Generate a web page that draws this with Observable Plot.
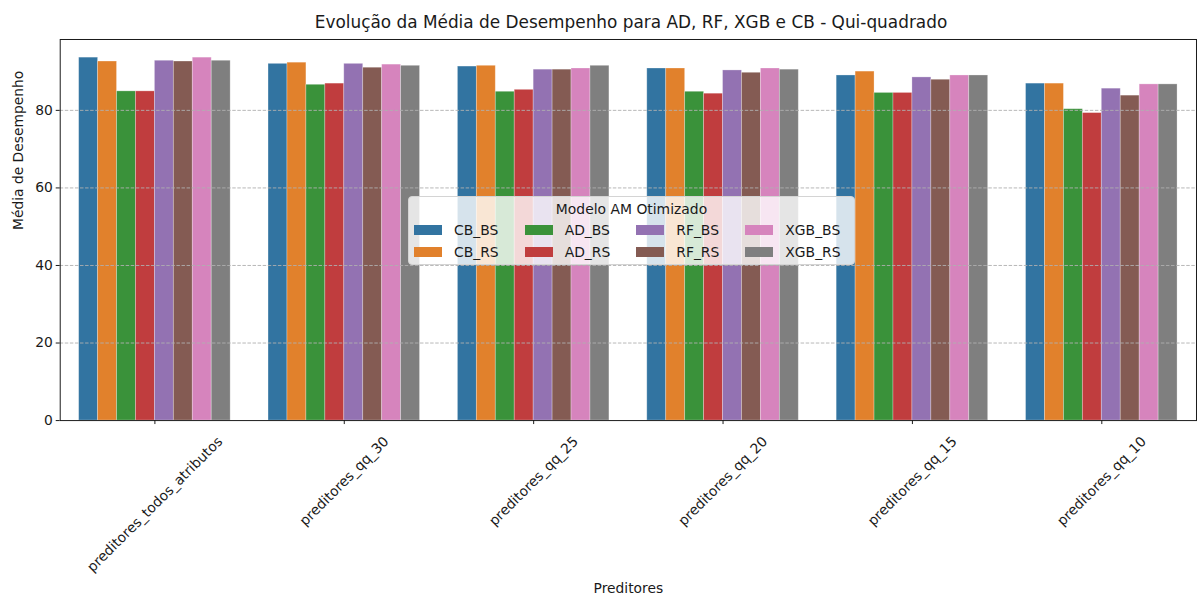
<!DOCTYPE html>
<html>
<head>
<meta charset="utf-8">
<script src="https://cdn.jsdelivr.net/npm/d3@7"></script>
<script src="https://cdn.jsdelivr.net/npm/@observablehq/plot@0.6"></script>
<style>
  html, body { margin: 0; padding: 0; background: #fff; overflow: hidden; }
  body { font-family: "DejaVu Sans", sans-serif; color: #1a1a1a; }
  #wrap { position: relative; width: 1197px; height: 596px; overflow: hidden; }
  #title { margin-left: 60px; width: 1142px; height: 38px; line-height: 44px; text-align: center; font-size: 16.9px; white-space: nowrap; }
  #chart { height: 558px; line-height: 0; }
  #legend { position: absolute; left: 408px; top: 196px; box-sizing: border-box; width: 447px; height: 69px;
            border: 1px solid #d4d4d4; border-radius: 4px; background: rgba(255,255,255,0.8); padding: 4px 5px 0 5px; font-size: 13.9px; }
  #legend .ttl { text-align: center; line-height: 16px; height: 16px; }
  #legend .items { display: grid; grid-auto-flow: column; grid-template-rows: 16px 16px; row-gap: 6px; column-gap: 26px; margin-top: 5px; justify-content: start; }
  #legend .item { display: flex; align-items: center; white-space: nowrap; line-height: 16px; }
  #legend .sw { width: 28px; height: 10px; margin-right: 12px; box-sizing: border-box; }
</style>
</head>
<body>
<div id="wrap">
  <div id="title">Evolução da Média de Desempenho para AD, RF, XGB e CB - Qui-quadrado</div>
  <div id="chart"></div>
  <div id="legend"></div>
</div>
<script>
// Predictor sets (x categories)
const categories = [
  "preditores_todos_atributos",
  "preditores_qq_30",
  "preditores_qq_25",
  "preditores_qq_20",
  "preditores_qq_15",
  "preditores_qq_10"
];

// Optimised ML models (hue)
const models = ["CB_BS", "CB_RS", "AD_BS", "AD_RS", "RF_BS", "RF_RS", "XGB_BS", "XGB_RS"];

// Mean performance per model, one value per predictor set
const CB_BS  = [93.6, 92.0, 91.3, 90.8, 89.0, 86.9];
const CB_RS  = [92.6, 92.3, 91.5, 90.8, 90.0, 86.9];
const AD_BS  = [84.9, 86.6, 84.8, 84.8, 84.5, 80.3];
const AD_RS  = [84.9, 86.9, 85.3, 84.3, 84.5, 79.3];
const RF_BS  = [92.8, 92.0, 90.5, 90.3, 88.5, 85.6];
const RF_RS  = [92.6, 91.0, 90.5, 89.7, 87.9, 83.8];
const XGB_BS = [93.6, 91.8, 90.8, 90.8, 89.0, 86.7];
const XGB_RS = [92.8, 91.5, 91.5, 90.5, 89.0, 86.7];

const yTicks = [0, 20, 40, 60, 80];

const palette = ["#3274a1", "#e1812c", "#3a923a", "#c03d3e", "#9372b2", "#845b53", "#d684bd", "#7f7f7f"];

const series = {CB_BS, CB_RS, AD_BS, AD_RS, RF_BS, RF_RS, XGB_BS, XGB_RS};

// Long table: each bar sits inside its category slot, groups use 80% of the slot
const groupWidth = 0.8;
const barW = groupWidth / models.length;
const rows = [];
categories.forEach((c, i) => {
  models.forEach((m, j) => {
    const x1 = i - groupWidth / 2 + j * barW;
    rows.push({category: c, model: m, value: series[m][i], x1, x2: x1 + barW});
  });
});

const yMax = d3.max(rows, d => d.value) * 1.05;

const font = "DejaVu Sans";
const fs = 13.9;

// Measure the tick labels so the rotated labels can be centred under each tick
const ctx = document.createElement("canvas").getContext("2d");
ctx.font = `${fs}px "${font}"`;
const labelMarks = categories.map((c, i) => {
  const w = ctx.measureText(c).width;
  const half = (w + 1.16 * fs) * Math.SQRT1_2 / 2;
  return Plot.text([c], {
    x: () => i, y: () => 0, text: d => d,
    rotate: -45, textAnchor: "middle", lineAnchor: "middle",
    dy: 13 + half, fontSize: fs, fill: "#1a1a1a"
  });
});

const chart = Plot.plot({
  width: 1203,
  height: 558,
  marginTop: 1,
  marginLeft: 60,
  marginRight: 1,
  marginBottom: 174,
  style: {fontFamily: font, fontSize: `${fs}px`, background: "transparent", overflow: "visible", display: "block"},
  x: {domain: [-0.5, categories.length - 0.5]},
  y: {domain: [0, yMax]},
  color: {domain: models, range: palette},
  marks: [
    Plot.rectY(rows, {x1: "x1", x2: "x2", y: "value", fill: "model", stroke: "white", strokeOpacity: 0.35, strokeWidth: 0.8}),
    Plot.ruleY(yTicks.filter(t => t > 0), {stroke: "#b0b0b0", strokeWidth: 0.9, strokeDasharray: "3.5,1.6"}),
    Plot.frame({stroke: "#1a1a1a", strokeWidth: 1}),
    Plot.axisY({ticks: yTicks, tickSize: 4, tickPadding: 3.5, fontSize: fs, label: null, color: "#1a1a1a"}),
    Plot.axisX({ticks: d3.range(categories.length), tickFormat: () => "", tickSize: 4, label: null, color: "#1a1a1a"}),
    ...labelMarks,
    Plot.text(["Média de Desempenho"], {frameAnchor: "left", text: d => d, rotate: -90, dx: -42, fontSize: fs, fill: "#1a1a1a"}),
    Plot.text(["Preditores"], {frameAnchor: "bottom", lineAnchor: "middle", text: d => d, dy: 169, fontSize: fs, fill: "#1a1a1a"})
  ]
});
document.getElementById("chart").appendChild(chart);

// Legend box drawn over the plot area
const legend = document.getElementById("legend");
const ttl = document.createElement("div");
ttl.className = "ttl";
ttl.textContent = "Modelo AM Otimizado";
legend.appendChild(ttl);
const items = document.createElement("div");
items.className = "items";
models.forEach((m, j) => {
  const it = document.createElement("div");
  it.className = "item";
  const sw = document.createElement("span");
  sw.className = "sw";
  sw.style.background = palette[j];
  const lb = document.createElement("span");
  lb.textContent = m;
  it.appendChild(sw);
  it.appendChild(lb);
  items.appendChild(it);
});
legend.appendChild(items);
</script>
</body>
</html>
